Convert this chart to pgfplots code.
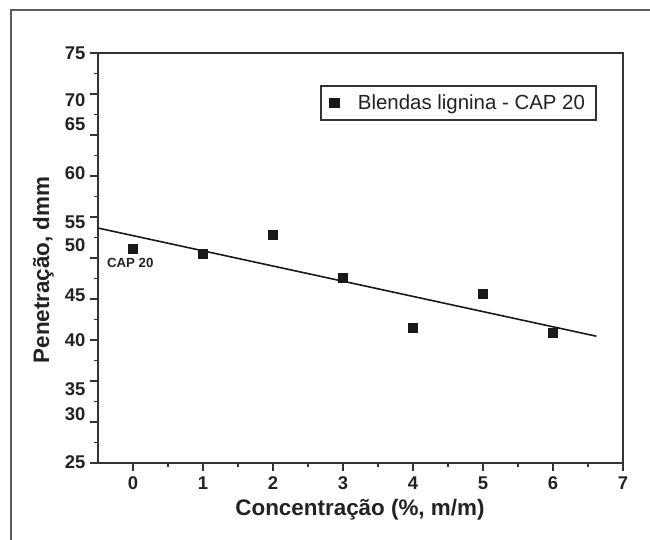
\documentclass[border=0pt]{standalone}
\usepackage{pgfplots}
\pgfplotsset{compat=1.18}
\usepackage{fontspec}
\setmainfont{Liberation Sans}
\definecolor{ink}{HTML}{222222}
\definecolor{axc}{HTML}{333333}
\begin{document}
\begin{tikzpicture}[x=1bp,y=1bp]
\path[use as bounding box] (0,0) rectangle (650,540);
\draw[axc!80, line width=1.3bp] (11,0) -- (11,530) -- (650,530);
\begin{axis}[
  at={(98bp,77bp)}, anchor=south west,
  scale only axis, width=525bp, height=410bp,
  xmin=-0.5, xmax=7, ymin=25, ymax=75,
  axis line style={line width=1.7bp, axc},
  every tick/.style={line width=1.5bp, axc},
  tick align=outside,
  xtick={0,1,...,7},
  minor x tick num=1,
  ytick={25,30,...,75},
  yticklabels={},
  minor y tick num=1,
  xtick pos=bottom, ytick pos=left,
  major tick length=8bp, minor tick length=4bp,
  extra y ticks={25.1,31.0,34.0,40.0,45.5,51.6,54.4,60.3,66.3,69.2,74.96},
  extra y tick labels={25,30,35,40,45,50,55,60,65,70,75},
  extra y tick style={major tick length=0pt, yticklabel style={xshift=-9bp}},
  /pgf/number format/assume math mode=true,
  ticklabel style={font=\bfseries\fontsize{18.5}{20}\selectfont, text=ink},
  xticklabel style={yshift=-2bp},
  xlabel={Concentração (\%, m/m)},
  ylabel={Penetração, dmm},
  label style={font=\bfseries\fontsize{22.5}{26}\selectfont, text=ink},
  xlabel style={at={(axis description cs:0.499,-0.115)}, anchor=center},
  ylabel style={at={(axis description cs:-0.104,0.471)}, anchor=center, rotate=0},
  legend style={at={(0.423,0.922)}, anchor=north west, draw=axc, line width=1.7bp,
    font=\fontsize{20.5}{23}\selectfont, text=ink, inner xsep=9bp, inner ysep=7bp,
    column sep=17bp},
  legend image post style={xshift=8.5bp},
  legend cell align=left,
]
\addplot[only marks, mark=square*, mark size=4.5bp, color=black!90] coordinates {
 (0,51.10) (1,50.57) (2,52.89) (3,47.65) (4,41.46) (5,45.65) (6,40.89)};
\addlegendentry{Blendas lignina - CAP 20}
\addplot[no marks, line width=1.6bp, color=black!90, forget plot] coordinates {(-0.52,53.69) (6.62,40.46)};
\node[font=\bfseries\fontsize{13.3}{15}\selectfont, text=ink] at (axis cs:-0.04,49.39) {CAP 20};
\end{axis}
\end{tikzpicture}
\end{document}
